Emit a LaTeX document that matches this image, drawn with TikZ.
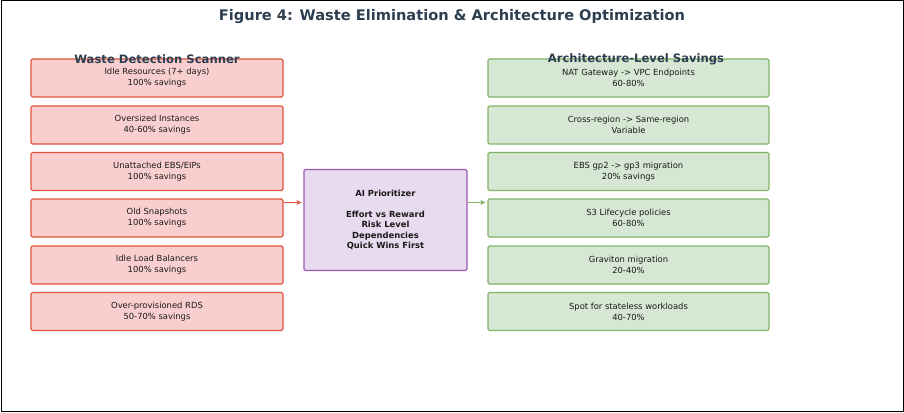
\documentclass[tikz,border=0pt]{standalone}
\usepackage{fontspec}
\setmainfont{DejaVu Sans}
\usetikzlibrary{arrows.meta}
\definecolor{wfill}{HTML}{F8CFCE}
\definecolor{wdraw}{HTML}{E0533F}
\definecolor{gfill}{HTML}{D6E8D4}
\definecolor{gdraw}{HTML}{82B366}
\definecolor{pfill}{HTML}{E8DAEF}
\definecolor{pdraw}{HTML}{9B59B6}
\definecolor{titlec}{HTML}{2C3E50}
\definecolor{txt}{HTML}{1A1A1A}
\begin{document}
\begin{tikzpicture}[x=1pt,y=-1pt,
  box/.style={rounded corners=1.5pt, line width=1.3pt, align=center, inner sep=0pt,
    font=\fontsize{8.4}{11}\selectfont, text=txt},
  wbox/.style={box, fill=wfill, draw=wdraw, minimum width=252pt, minimum height=38pt},
  gbox/.style={box, fill=gfill, draw=gdraw, minimum width=281pt, minimum height=38pt},
  pbox/.style={box, fill=pfill, draw=pdraw, minimum width=163pt, minimum height=101pt,
    font=\bfseries\fontsize{8.4}{10.5}\selectfont},
  hdr/.style={font=\bfseries\fontsize{11.6}{13}\selectfont, text=titlec, inner sep=0pt},
  arr/.style={line width=1.2pt, -{Stealth[length=5pt,width=5pt]}, shorten >=2pt}
]
\useasboundingbox (0,0) rectangle (904,412);
\draw[line width=1pt, black] (1,1) rectangle (903,411);
\node[font=\bfseries\fontsize{14.6}{16}\selectfont, text=titlec, inner sep=0pt] (title) at (452,17) {Figure 4: Waste Elimination \& Architecture Optimization};

\node[wbox] (l1) at (157,78) {Idle Resources (7+ days)\\100\% savings};
\node[wbox] (l2) at (157,125) {Oversized Instances\\40-60\% savings};
\node[wbox] (l3) at (157,171.5) {Unattached EBS/EIPs\\100\% savings};
\node[wbox] (l4) at (157,218) {Old Snapshots\\100\% savings};
\node[wbox] (l5) at (157,265) {Idle Load Balancers\\100\% savings};
\node[wbox] (l6) at (157,311.5) {Over-provisioned RDS\\50-70\% savings};

\node[gbox] (r1) at (628.5,78) {NAT Gateway -> VPC Endpoints\\60-80\%};
\node[gbox] (r2) at (628.5,125) {Cross-region -> Same-region\\Variable};
\node[gbox] (r3) at (628.5,171.5) {EBS gp2 -> gp3 migration\\20\% savings};
\node[gbox] (r4) at (628.5,218) {S3 Lifecycle policies\\60-80\%};
\node[gbox] (r5) at (628.5,265) {Graviton migration\\20-40\%};
\node[gbox] (r6) at (628.5,311.5) {Spot for stateless workloads\\40-70\%};

\node[pbox] (c) at (385.5,220) {AI Prioritizer\\[10.5pt]Effort vs Reward\\Risk Level\\Dependencies\\Quick Wins First};

\node[hdr] (hl) at (157,59.5) {Waste Detection Scanner};
\node[hdr] (hr) at (636,59.5) {Architecture-Level Savings};

\draw[arr, wdraw] (l4.east |- 0,202.5) -- (c.west |- 0,202.5);
\draw[arr, gdraw] (c.east |- 0,202.5) -- (r4.west |- 0,202.5);
\end{tikzpicture}
\end{document}
